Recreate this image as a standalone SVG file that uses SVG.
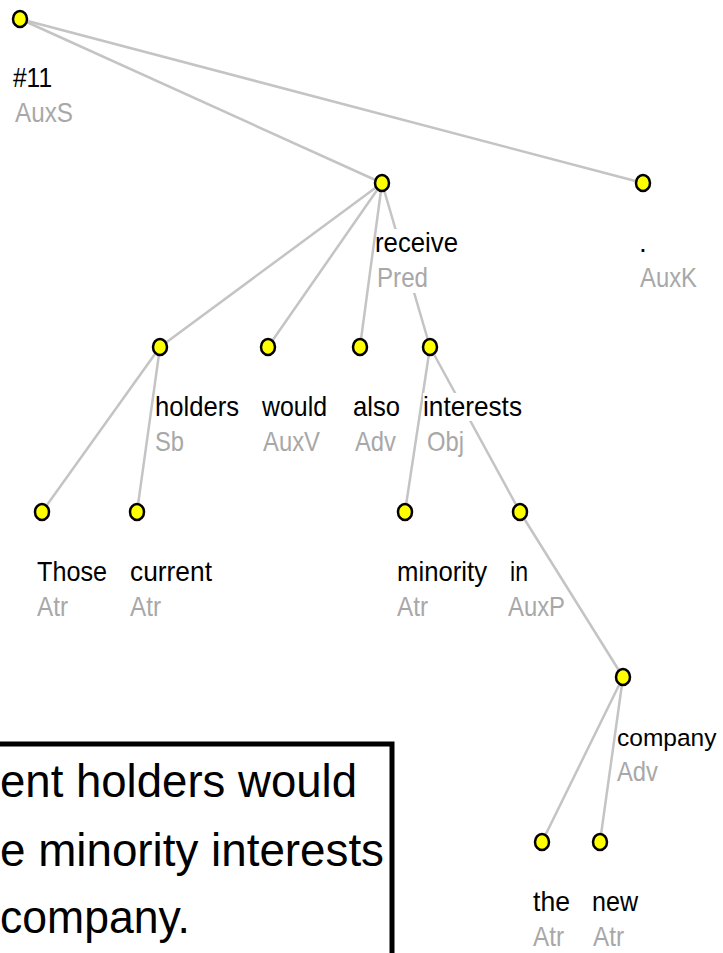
<svg xmlns="http://www.w3.org/2000/svg" width="723" height="953" viewBox="0 0 723 953">
  <style>
    .edge { stroke: #c4c4c4; stroke-width: 2.5; fill: none; stroke-linecap: round; }
    .node { fill: #ffff00; stroke: #000000; stroke-width: 2.5; }
    .form { font-family: "Liberation Sans", Arial, sans-serif; font-size: 28px; fill: #000000; }
    .afun { font-family: "Liberation Sans", Arial, sans-serif; font-size: 28px; fill: #a8a8a8; }
    .edgefit { font-size: 24.5px; }
    .bg { fill: #ffffff; }
    .sent { font-family: "Liberation Sans", Arial, sans-serif; font-size: 46px; fill: #000000; }
  </style>
  <rect x="0" y="0" width="723" height="953" fill="#ffffff"/>

  <!-- dependency edges -->
  <g id="edges">
    <line class="edge" x1="20" y1="19" x2="382" y2="183"/>
    <line class="edge" x1="20" y1="19" x2="643" y2="183"/>
    <line class="edge" x1="382" y1="183" x2="160" y2="347"/>
    <line class="edge" x1="382" y1="183" x2="268" y2="347"/>
    <line class="edge" x1="382" y1="183" x2="360" y2="347"/>
    <line class="edge" x1="382" y1="183" x2="430" y2="347"/>
    <line class="edge" x1="160" y1="347" x2="42" y2="512"/>
    <line class="edge" x1="160" y1="347" x2="137" y2="512"/>
    <line class="edge" x1="430" y1="347" x2="405" y2="512"/>
    <line class="edge" x1="430" y1="347" x2="520" y2="512"/>
    <line class="edge" x1="520" y1="512" x2="623" y2="677"/>
    <line class="edge" x1="623" y1="677" x2="542" y2="842"/>
    <line class="edge" x1="623" y1="677" x2="600" y2="842"/>
  </g>

  <g id="n-root">
    <ellipse class="node" cx="20" cy="19" rx="7" ry="8"/>
    <text class="form" x="13" y="87" textLength="39" lengthAdjust="spacingAndGlyphs">#11</text>
    <text class="afun" x="15" y="122" textLength="58" lengthAdjust="spacingAndGlyphs">AuxS</text>
  </g>
  <g id="n-receive">
    <rect class="bg" x="377" y="229" width="84" height="64"/>
    <ellipse class="node" cx="382" cy="183" rx="7" ry="8"/>
    <text class="form" x="375" y="252" textLength="83" lengthAdjust="spacingAndGlyphs">receive</text>
    <text class="afun" x="377" y="287" textLength="51" lengthAdjust="spacingAndGlyphs">Pred</text>
  </g>
  <g id="n-period">
    <ellipse class="node" cx="643" cy="183" rx="7" ry="8"/>
    <text class="form" x="639" y="252">.</text>
    <text class="afun" x="640" y="287" textLength="57" lengthAdjust="spacingAndGlyphs">AuxK</text>
  </g>
  <g id="n-holders">
    <ellipse class="node" cx="160" cy="347" rx="7" ry="8"/>
    <text class="form" x="155" y="416" textLength="84" lengthAdjust="spacingAndGlyphs">holders</text>
    <text class="afun" x="155" y="451" textLength="29" lengthAdjust="spacingAndGlyphs">Sb</text>
  </g>
  <g id="n-would">
    <ellipse class="node" cx="268" cy="347" rx="7" ry="8"/>
    <text class="form" x="262" y="416" textLength="65" lengthAdjust="spacingAndGlyphs">would</text>
    <text class="afun" x="263" y="451" textLength="57" lengthAdjust="spacingAndGlyphs">AuxV</text>
  </g>
  <g id="n-also">
    <ellipse class="node" cx="360" cy="347" rx="7" ry="8"/>
    <text class="form" x="353" y="416" textLength="47" lengthAdjust="spacingAndGlyphs">also</text>
    <text class="afun" x="355" y="451" textLength="41" lengthAdjust="spacingAndGlyphs">Adv</text>
  </g>
  <g id="n-interests">
    <rect class="bg" x="423" y="393" width="100" height="28"/>
    <ellipse class="node" cx="430" cy="347" rx="7" ry="8"/>
    <text class="form" x="423" y="416" textLength="99" lengthAdjust="spacingAndGlyphs">interests</text>
    <text class="afun" x="427" y="451" textLength="37" lengthAdjust="spacingAndGlyphs">Obj</text>
  </g>
  <g id="n-those">
    <ellipse class="node" cx="42" cy="512" rx="7" ry="8"/>
    <text class="form" x="37" y="581" textLength="70" lengthAdjust="spacingAndGlyphs">Those</text>
    <text class="afun" x="37" y="616" textLength="31" lengthAdjust="spacingAndGlyphs">Atr</text>
  </g>
  <g id="n-current">
    <ellipse class="node" cx="137" cy="512" rx="7" ry="8"/>
    <text class="form" x="130" y="581" textLength="82" lengthAdjust="spacingAndGlyphs">current</text>
    <text class="afun" x="130" y="616" textLength="31" lengthAdjust="spacingAndGlyphs">Atr</text>
  </g>
  <g id="n-minority">
    <ellipse class="node" cx="405" cy="512" rx="7" ry="8"/>
    <text class="form" x="397" y="581" textLength="90" lengthAdjust="spacingAndGlyphs">minority</text>
    <text class="afun" x="397" y="616" textLength="31" lengthAdjust="spacingAndGlyphs">Atr</text>
  </g>
  <g id="n-in">
    <ellipse class="node" cx="520" cy="512" rx="7" ry="8"/>
    <text class="form" x="510" y="581" textLength="18" lengthAdjust="spacingAndGlyphs">in</text>
    <text class="afun" x="508" y="616" textLength="57" lengthAdjust="spacingAndGlyphs">AuxP</text>
  </g>
  <g id="n-company">
    <ellipse class="node" cx="623" cy="677" rx="7" ry="8"/>
    <text class="form edgefit" x="617" y="746">company</text>
    <text class="afun" x="617" y="781" textLength="41" lengthAdjust="spacingAndGlyphs">Adv</text>
  </g>
  <g id="n-the">
    <ellipse class="node" cx="542" cy="842" rx="7" ry="8"/>
    <text class="form" x="533" y="911" textLength="37" lengthAdjust="spacingAndGlyphs">the</text>
    <text class="afun" x="533" y="946" textLength="31" lengthAdjust="spacingAndGlyphs">Atr</text>
  </g>
  <g id="n-new">
    <ellipse class="node" cx="600" cy="842" rx="7" ry="8"/>
    <text class="form" x="592" y="911" textLength="46" lengthAdjust="spacingAndGlyphs">new</text>
    <text class="afun" x="593" y="946" textLength="31" lengthAdjust="spacingAndGlyphs">Atr</text>
  </g>

  <!-- sentence panel -->
  <g id="sentence">
    <rect x="-10" y="744" width="402" height="240" fill="#ffffff" stroke="#000000" stroke-width="5"/>
    <text class="sent" x="0" y="797" textLength="357" lengthAdjust="spacingAndGlyphs">ent holders would</text>
    <text class="sent" x="0" y="866" textLength="384" lengthAdjust="spacingAndGlyphs">e minority interests</text>
    <text class="sent" x="0" y="933" textLength="190" lengthAdjust="spacingAndGlyphs">company.</text>
  </g>
</svg>
